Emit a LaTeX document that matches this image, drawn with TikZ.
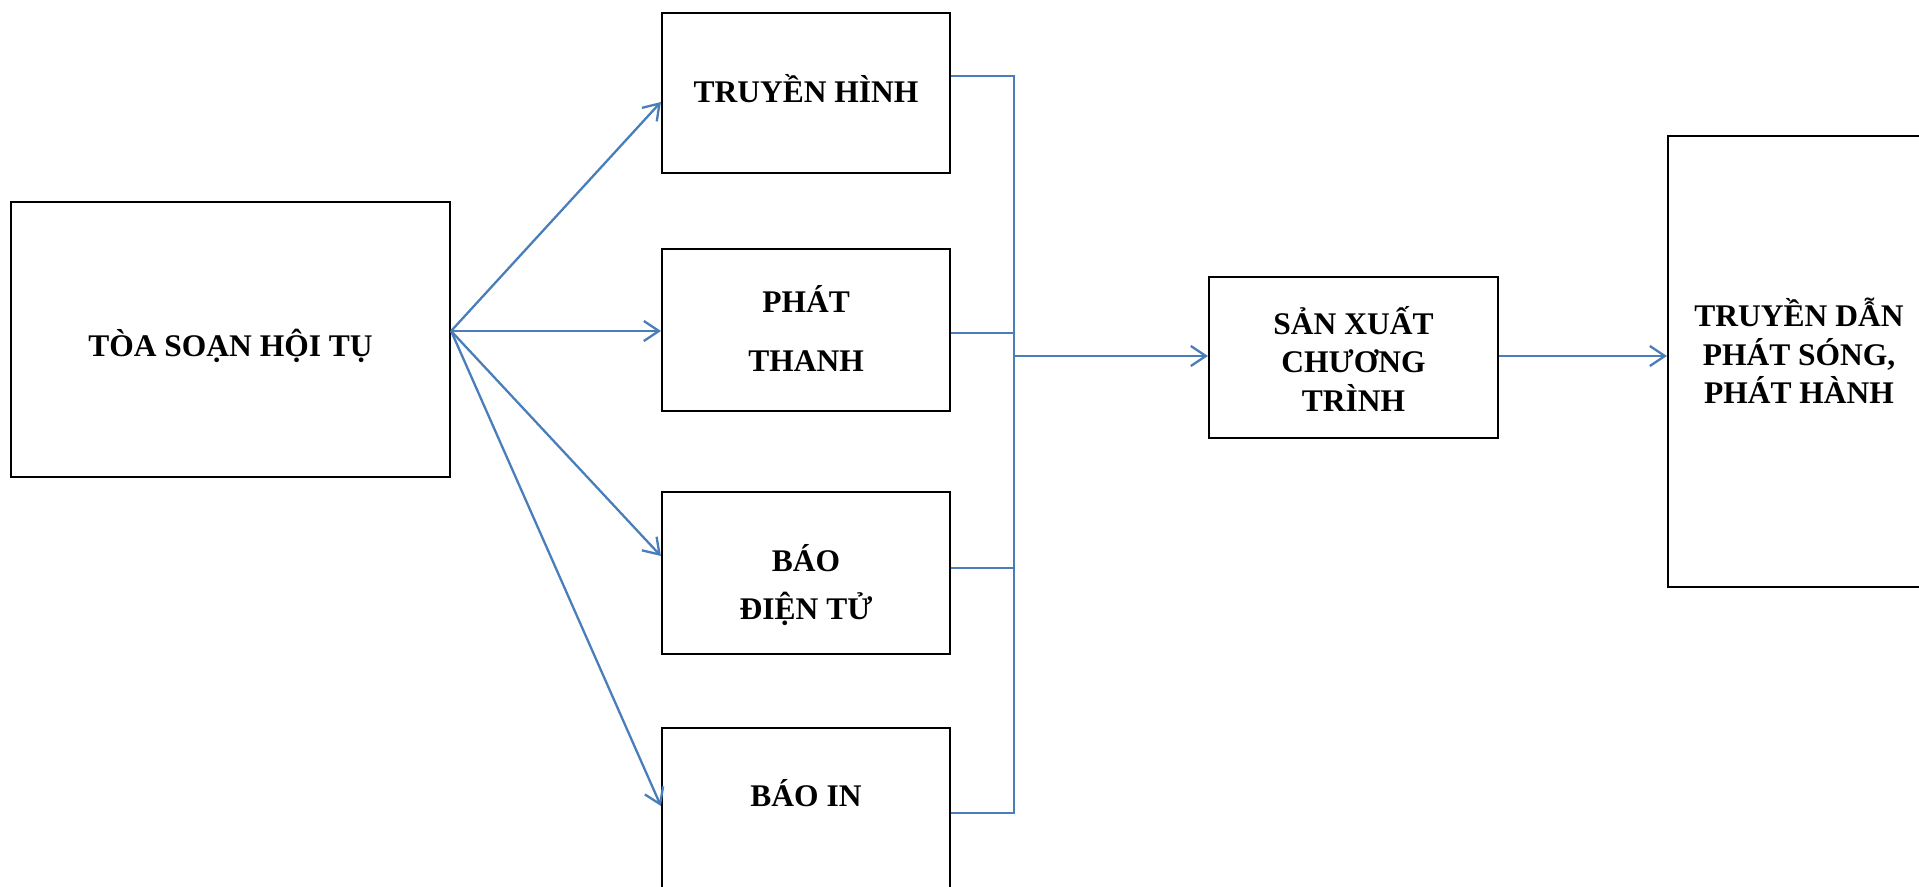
\documentclass[tikz,border=0pt]{standalone}
\usepackage{fontspec}
\setmainfont{Liberation Serif}
\usetikzlibrary{arrows.meta,calc}
\definecolor{linkblue}{RGB}{74,126,187}
% set a (possibly multi-line) label, raised by #1 without changing its box
\newcommand{\lifttext}[2]{\raisebox{#1}[\height][\depth]{\begin{tabular}{@{}c@{}}#2\end{tabular}}}
\begin{document}
\begin{tikzpicture}[x=1pt,y=-1pt,
  box/.style={draw=black,line width=2.2pt,inner sep=0pt,align=center,
    font=\fontsize{31.5}{38}\selectfont\bfseries},
  link/.style={draw=linkblue,line width=2.3pt},
  flow/.style={link,-{Straight Barb[length=15pt,width=20pt]}}]
\useasboundingbox (0,0) rectangle (1919,886);

% boxes
\node[box,minimum width=439pt,minimum height=275pt] (hub) at (230.5,339.5)
  {\lifttext{-9.5pt}{TÒA SOẠN HỘI TỤ}};
\node[box,minimum width=288pt,minimum height=160pt] (tv) at (806,93)
  {\lifttext{-1pt}{TRUYỀN HÌNH}};
\node[box,minimum width=288pt,minimum height=162pt,
  font=\fontsize{31.5}{59}\selectfont\bfseries] (radio) at (806,330)
  {\lifttext{-0.5pt}{PHÁT\\THANH}};
\node[box,minimum width=288pt,minimum height=162pt,
  font=\fontsize{31.5}{48}\selectfont\bfseries] (web) at (806,573)
  {\lifttext{-13pt}{BÁO\\ĐIỆN TỬ}};
\node[box,anchor=north,minimum width=288pt,text height=78pt,text depth=160pt] (print) at (806,727) {BÁO IN};
\node[box,minimum width=289pt,minimum height=161pt] (prod) at (1353.5,357.5)
  {\lifttext{-7pt}{SẢN XUẤT\\CHƯƠNG\\TRÌNH}};
\node[box,minimum width=262pt,minimum height=451pt] (dist) at (1799,361.5)
  {\lifttext{5pt}{TRUYỀN DẪN\\PHÁT SÓNG,\\PHÁT HÀNH}};

% fan-out from the newsroom
\coordinate (src) at ([yshift=8.5pt]hub.east);
\draw[flow] (src) -- ([yshift=-9pt]tv.west);
\draw[flow] (src) -- ([yshift=-1pt]radio.west);
\draw[flow] (src) -- ([yshift=17pt]web.west);
\draw[flow] (src) -- ([yshift=-79pt]print.north west);

% collecting bus
\coordinate (busx) at (1014,0);
\coordinate (o1) at ([yshift=17pt]tv.east);
\coordinate (o2) at ([yshift=-3pt]radio.east);
\coordinate (o3) at ([yshift=5pt]web.east);
\coordinate (o4) at ([yshift=-86pt]print.north east);
\draw[link] (o1) -- (o1 -| busx) -- (o4 -| busx) -- (o4);
\draw[link] (o2) -- (o2 -| busx);
\draw[link] (o3) -- (o3 -| busx);
\draw[flow] ([yshift=1.5pt]prod.west -| busx) -- ([yshift=1.5pt]prod.west);
\draw[flow] ([yshift=1.5pt]prod.east) -- ([yshift=1.5pt]prod.east -| dist.west);
\end{tikzpicture}
\end{document}
